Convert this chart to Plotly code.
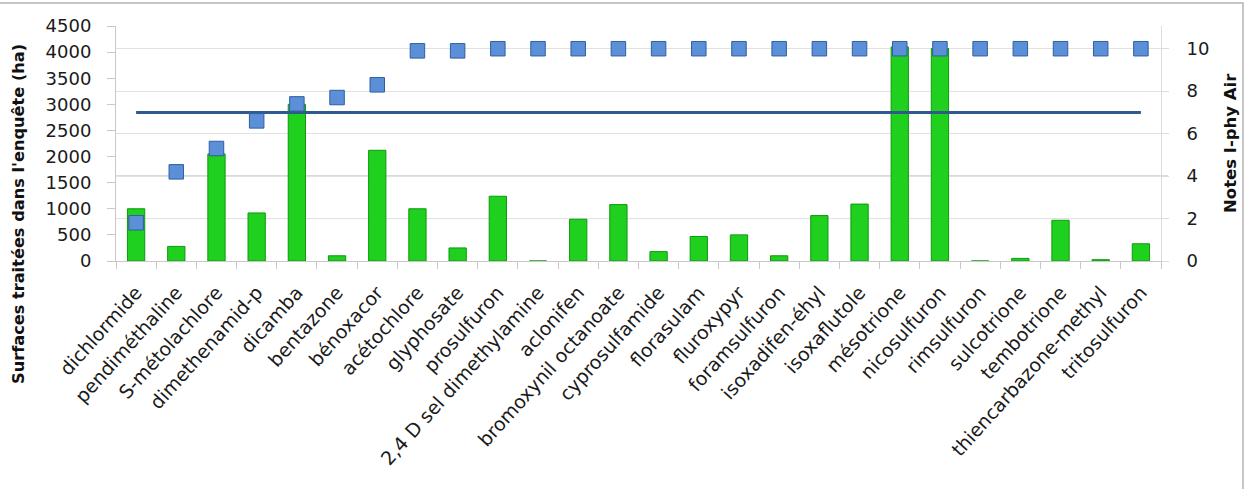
import plotly.graph_objects as go

categories = ["dichlormide", "pendiméthaline", "S-métolachlore", "dimethenamid-p", "dicamba",
              "bentazone", "bénoxacor", "acétochlore", "glyphosate", "prosulfuron",
              "2,4 D sel dimethylamine", "aclonifen", "bromoxynil octanoate", "cyprosulfamide",
              "florasulam", "fluroxypyr", "foramsulfuron", "isoxadifen-éhyl", "isoxaflutole",
              "mésotrione", "nicosulfuron", "rimsulfuron", "sulcotrione", "tembotrione",
              "thiencarbazone-methyl", "tritosulfuron"]

surfaces = [1000, 280, 2050, 920, 3000, 100, 2120, 1000, 250, 1240,
            0, 800, 1080, 180, 470, 500, 100, 870, 1090,
            4100, 4070, 0, 50, 780, 25, 330]

notes = [1.8, 4.2, 5.3, 6.6, 7.4, 7.7, 8.3, 9.9, 9.9, 10,
         10, 10, 10, 10, 10, 10, 10, 10, 10,
         10, 10, 10, 10, 10, 10, 10]

seuil = [7] * len(categories)

left_ticks = [0, 500, 1000, 1500, 2000, 2500, 3000, 3500, 4000, 4500]
right_ticks = [0, 2, 4, 6, 8, 10]

W, H = 1252, 489
ML, MR, MT, MB = 116, 91, 26, 228
PW, PH = W - ML - MR, H - MT - MB

FONT = "DejaVu Sans"

fig = go.Figure()
fig.add_trace(go.Bar(
    x=categories, y=surfaces, yaxis="y",
    marker=dict(color="#1fd01f", line=dict(color="#0c9a0c", width=1)),
    width=0.43, showlegend=False,
))
fig.add_trace(go.Scatter(
    x=categories, y=seuil, yaxis="y2", mode="lines",
    line=dict(color="#2f5b8c", width=3), showlegend=False,
))
fig.add_trace(go.Scatter(
    x=categories, y=notes, yaxis="y2", mode="markers",
    marker=dict(symbol="square", size=14.5, color="#5b8fd8",
                line=dict(color="#2f5f9f", width=1)),
    showlegend=False,
))

def px_x(p):
    return (p - ML) / PW

def px_y(p):
    return (H - MB - p) / PH

shapes = [
    dict(type="rect", xref="paper", yref="paper",
         x0=px_x(-3), x1=px_x(1243), y0=px_y(495), y1=px_y(3),
         line=dict(color="#b4b4b4", width=1.5), fillcolor="rgba(0,0,0,0)", layer="below"),
]
for v in [2, 4]:
    shapes.append(dict(type="line", xref="paper", yref="y2",
                       x0=0, x1=px_x(1168), y0=v, y1=v,
                       line=dict(color="#a8a8a8", width=1), layer="below"))

fig.update_layout(
    width=W, height=H,
    margin=dict(l=ML, r=MR, t=MT, b=MB, autoexpand=False),
    paper_bgcolor="white", plot_bgcolor="white",
    font=dict(family=FONT, size=17, color="#1a1a1a"),
    xaxis=dict(
        type="category", tickangle=-48, range=[-0.5, len(categories) - 0.5],
        ticks="outside", tickson="boundaries", ticklen=7, tickcolor="#c8c8c8",
        showline=True, linecolor="#c8c8c8", linewidth=1,
        showgrid=False, tickfont=dict(size=19, family=FONT),
        ticklabelstandoff=12, automargin=False,
    ),
    yaxis=dict(
        range=[0, 4500], tickvals=left_ticks, ticktext=[str(t) for t in left_ticks],
        ticks="outside", ticklen=8, tickcolor="#c8c8c8",
        showline=True, linecolor="#c8c8c8", linewidth=1,
        showgrid=False, zeroline=False, tickfont=dict(size=18, family=FONT),
        ticklabelstandoff=12, automargin=False,
    ),
    yaxis2=dict(
        range=[0, 11.07], tickvals=right_ticks, ticktext=[str(t) for t in right_ticks],
        overlaying="y", side="right",
        ticks="outside", ticklen=7, tickcolor="#dcdcdc",
        showline=True, linecolor="#dcdcdc", linewidth=1,
        showgrid=True, gridcolor="#e2e2e2", gridwidth=1, zeroline=False,
        tickfont=dict(size=18, family=FONT),
        ticklabelstandoff=14, automargin=False,
    ),
    shapes=shapes,
    annotations=[
        dict(text="<b>Surfaces traitées dans l'enquête (ha)</b>", textangle=-90,
             xref="paper", yref="paper", x=px_x(18), y=px_y(214),
             xanchor="center", yanchor="middle", showarrow=False,
             font=dict(size=16.2, family=FONT, color="#111111")),
        dict(text="<b>Notes I-phy Air</b>", textangle=-90,
             xref="paper", yref="paper", x=px_x(1230), y=px_y(143),
             xanchor="center", yanchor="middle", showarrow=False,
             font=dict(size=16.5, family=FONT, color="#111111")),
    ],
)

fig.write_html("out.html")
